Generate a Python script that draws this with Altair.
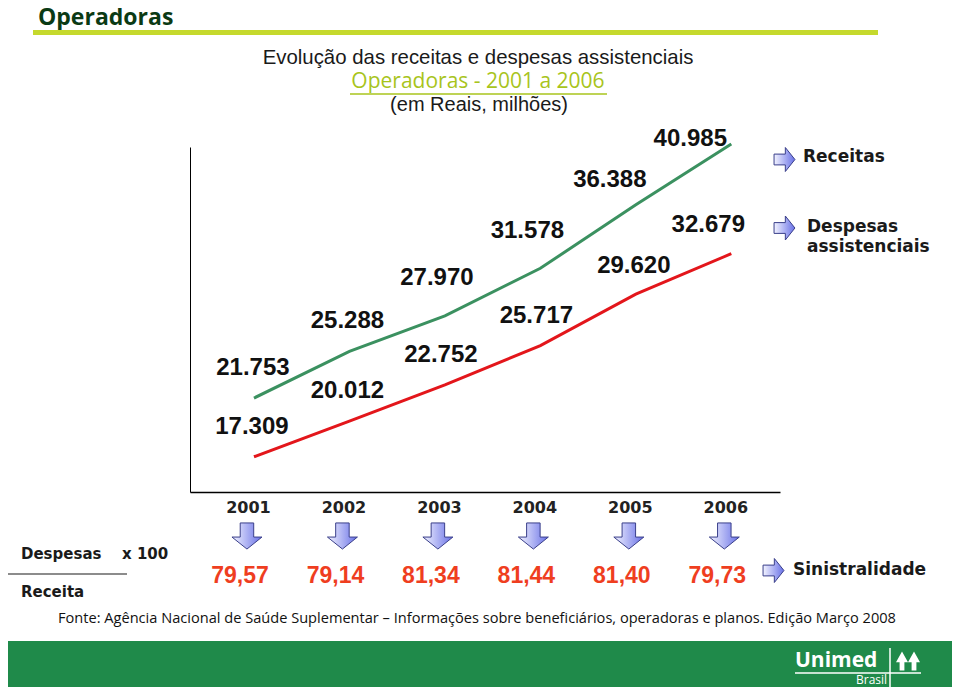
import altair as alt
import pandas as pd

# ---- data ----
years = [2001, 2002, 2003, 2004, 2005, 2006]
receitas = [21.753, 25.288, 27.970, 31.578, 36.388, 40.985]
despesas = [17.309, 20.012, 22.752, 25.717, 29.620, 32.679]
sinistralidade = [79.57, 79.14, 81.34, 81.44, 81.40, 79.73]
series_names = ["Receitas", "Despesas assistenciais"]

# ---- layout (label nudges in px, kept apart from data) ----
nudge_receitas = [(-1, -30), (-2, -30), (-8, -38), (-13, -37), (-26, -25), (-41, -5)]
nudge_despesas = [(-2, -30), (-2, -30), (-4, -30), (-4, -30), (-2, -28), (-23, -29)]

GREEN = "#3b9160"
RED = "#e3161b"
BAND = "#1f8a4a"

lines_df = pd.DataFrame({
    "year": years * 2,
    "value": receitas + despesas,
    "serie": [series_names[0]] * len(years) + [series_names[1]] * len(years),
})
sin_df = pd.DataFrame({"year": years, "sin": sinistralidade})
one = pd.DataFrame({"a": [0]})

xscale = alt.Scale(domain=[2000.33, 2006.51], nice=False, zero=False)
yscale = alt.Scale(domain=[14.64, 40.76], nice=False, zero=False)
x_axis = alt.Axis(values=years, format="d", title=None, ticks=False, grid=False,
                  labelFont="DejaVu Sans", labelFontSize=16, labelFontWeight="bold",
                  labelColor="#222222", labelPadding=7, labelOffset=-6,
                  domainColor="black", domainWidth=1.5)
y_axis = alt.Axis(labels=False, ticks=False, grid=False, title=None,
                  domainColor="black", domainWidth=1)

x_enc = alt.X("year:Q", scale=xscale, axis=x_axis)

lines = alt.Chart(lines_df).mark_line(strokeWidth=3, clip=False).encode(
    x=x_enc,
    y=alt.Y("value:Q", scale=yscale, axis=y_axis),
    color=alt.Color("serie:N", scale=alt.Scale(domain=series_names, range=[GREEN, RED]), legend=None),
)

layers = [lines]

# value labels
for vals, nudges in ((receitas, nudge_receitas), (despesas, nudge_despesas)):
    for yr, v, (dx, dy) in zip(years, vals, nudges):
        d = pd.DataFrame({"year": [yr], "value": [v], "label": [f"{v:.3f}"]})
        layers.append(
            alt.Chart(d).mark_text(font="Liberation Sans", fontSize=24, fontWeight="bold",
                                   color="#111111", dx=dx, dy=dy, baseline="middle",
                                   align="center").encode(
                x=x_enc, y=alt.Y("value:Q", scale=yscale, axis=y_axis), text="label:N")
        )

down_arrow = "M-0.45,-0.87 L0.45,-0.87 L0.45,0.07 L1,0.07 L0,0.87 L-1,0.07 L-0.45,0.07 Z"
right_arrow = "M-0.87,-0.45 L0.07,-0.45 L0.07,-1 L0.87,0 L0.07,1 L0.07,0.45 L-0.87,0.45 Z"
grad = alt.Gradient(gradient="linear",
                    stops=[alt.GradientStop(color="#f2f3ff", offset=0),
                           alt.GradientStop(color="#6870e6", offset=1)],
                    x1=0, x2=1, y1=0, y2=0)

# down arrows under each year
layers.append(
    alt.Chart(sin_df).mark_point(shape=down_arrow, size=900, filled=True, fill=grad,
                                 stroke="#3a3f8a", strokeWidth=1, opacity=1,
                                 xOffset=-7).encode(x=x_enc, y=alt.value(389))
)
# sinistralidade values
layers.append(
    alt.Chart(sin_df).transform_calculate(
        txt="replace(format(datum.sin, '.2f'), '.', ',')"
    ).mark_text(font="Liberation Sans", fontSize=23, fontWeight="bold", color="#ef3e1f",
                dx=-14, baseline="middle").encode(x=x_enc, y=alt.value(429), text="txt:N")
)


def txt(s, x, y, size, font="Liberation Sans", weight="normal", color="#111111",
        align="left", baseline="middle"):
    return alt.Chart(one).mark_text(text=s, font=font, fontSize=size, fontWeight=weight,
                                    color=color, align=align, baseline=baseline).encode(
        x=alt.value(x), y=alt.value(y))


def rect(x, x2, y, y2, color):
    return alt.Chart(one).mark_rect(color=color).encode(
        x=alt.value(x), x2=alt.value(x2), y=alt.value(y), y2=alt.value(y2))


def rule(x, x2, y, y2, color, w):
    return alt.Chart(one).mark_rule(color=color, strokeWidth=w).encode(
        x=alt.value(x), x2=alt.value(x2), y=alt.value(y), y2=alt.value(y2))


def arrow(x, y, shape, size):
    return alt.Chart(one).mark_point(shape=shape, size=size, filled=True, fill=grad,
                                     stroke="#3a3f8a", strokeWidth=1, opacity=1).encode(
        x=alt.value(x), y=alt.value(y))


# header
layers += [
    txt("Operadoras", -152, -122.5, 23, font="Open Sans", weight="bold", color="#0b3a14",
        baseline="alphabetic"),
    rect(-157, 688, -117, -112, "#c5d92d"),
    txt("Evolução das receitas e despesas assistenciais", 288, -89, 20.4, align="center", color="#1a1a1a"),
    txt("Operadoras - 2001 a 2006", 288, -65, 21, font="Open Sans", align="center", color="#a8c41c"),
    rule(160, 417, -53, -53, "#a8c41c", 1.5),
    txt("(em Reais, milhões)", 289, -42, 20, align="center", color="#1a1a1a"),
]

# legend
layers += [
    arrow(594.5, 12.5, right_arrow, 576),
    arrow(594.5, 81, right_arrow, 576),
    txt("Receitas", 613, 10, 17, font="DejaVu Sans", weight="bold", color="#1a1a1a"),
    txt("Despesas", 617, 80, 17, font="DejaVu Sans", weight="bold", color="#1a1a1a"),
    txt("assistenciais", 617, 100, 17, font="DejaVu Sans", weight="bold", color="#1a1a1a"),
]

# ratio explanation
layers += [
    txt("Despesas", -169, 407, 15, font="DejaVu Sans", weight="bold", color="#1a1a1a"),
    txt("x 100", -68, 407, 15, font="DejaVu Sans", weight="bold", color="#1a1a1a"),
    rule(-182, -63, 427, 427, "#1a1a1a", 1.2),
    txt("Receita", -169, 445, 15, font="DejaVu Sans", weight="bold", color="#1a1a1a"),
    arrow(583.5, 423.5, right_arrow, 576),
    txt("Sinistralidade", 603, 423, 17, font="DejaVu Sans", weight="bold", color="#1a1a1a"),
    txt("Fonte: Agência Nacional de Saúde Suplementar – Informações sobre beneficiários, operadoras e planos. Edição  Março 2008",
        -132, 472, 14.6, font="Open Sans", color="#111111"),
]

# bottom band + logo
unimed_icon = ("M-1,0.1 L-0.5,-0.8 L0,0.1 L-0.3,0.1 L-0.3,0.8 L-0.7,0.8 L-0.7,0.1 Z "
               "M0,0.1 L0.5,-0.8 L1,0.1 L0.7,0.1 L0.7,0.8 L0.3,0.8 L0.3,0.1 Z")
layers += [
    rect(-182, 762, 494, 545, BAND),
    txt("Unimed", 605, 514, 21, font="Open Sans", weight="bold", color="white"),
    rule(605, 731, 526, 526, "white", 1.5),
    rule(700, 700, 501, 540, "white", 1.5),
    txt("Brasil", 666, 533, 12, font="Open Sans", color="white"),
    alt.Chart(one).mark_point(shape=unimed_icon, size=576, filled=True, fill="white",
                              opacity=1).encode(x=alt.value(718), y=alt.value(514)),
]

chart = alt.layer(*layers).properties(
    width=590, height=345,
    autosize=alt.AutoSizeParams(type="none"),
    padding={"left": 182, "top": 139, "right": 172, "bottom": 195},
    background="white",
).configure_view(stroke=None)

chart.save("out.html", embed_options={"renderer": "svg", "actions": False})
